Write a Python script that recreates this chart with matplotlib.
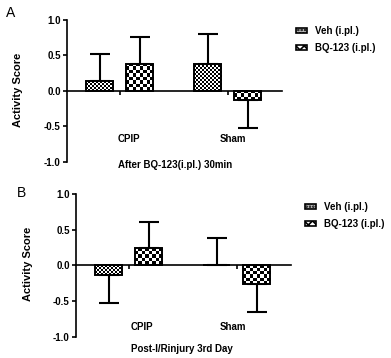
import matplotlib
matplotlib.use("Agg")
import matplotlib.pyplot as plt
import numpy as np
from matplotlib.patches import Patch

plt.rcParams['font.family'] = ['Liberation Sans', 'DejaVu Sans']
plt.rcParams['hatch.linewidth'] = 1.2

categories = ["CPIP", "Sham"]
series_names = ["Veh (i.pl.)", "BQ-123 (i.pl.)"]
yticks = [-1.0, -0.5, 0.0, 0.5, 1.0]
ytick_labels = ["-1.0", "-0.5", "0.0", "0.5", "1.0"]

# Panel A
a_veh = [0.13, 0.38]
a_bq = [0.38, -0.13]
a_veh_err = [0.39, 0.42]
a_bq_err = [0.37, 0.39]
a_veh_dir = [1, 1]
a_bq_dir = [1, -1]
a_xlabel = "After BQ-123(i.pl.) 30min"

# Panel B
b_veh = [-0.13, 0.0]
b_bq = [0.25, -0.26]
b_veh_err = [0.40, 0.38]
b_bq_err = [0.36, 0.40]
b_veh_dir = [-1, 1]
b_bq_dir = [1, -1]
b_xlabel = "Post-I/Rinjury 3rd Day"

W, H = 391, 358
fig = plt.figure(figsize=(W / 100, H / 100), dpi=100)

VEH_CELL = 2.0   # checker cell size in pixels
BQ_CELL = 3.3


def checker_fill(ax, rect, cell, light=1.0, dark=0.0):
    # fill a bar patch with a checkerboard clipped to the bar
    bb = rect.get_window_extent()
    wpx, hpx = abs(bb.width), abs(bb.height)
    if wpx < 1 or hpx < 1:
        return
    nx = max(1, int(round(wpx / cell)))
    ny = max(1, int(round(hpx / cell)))
    yy, xx = np.mgrid[0:ny, 0:nx]
    arr = np.where((xx + yy) % 2 == 0, light, dark)
    x0 = rect.get_x()
    x1 = x0 + rect.get_width()
    y0 = rect.get_y()
    y1 = y0 + rect.get_height()
    im = ax.imshow(arr, extent=(x0, x1, min(y0, y1), max(y0, y1)), cmap="gray",
                   vmin=0, vmax=1, interpolation="nearest", aspect="auto", zorder=2.5,
                   origin="upper")
    im.set_clip_path(rect)


def panel(rect, veh, bq, veh_err, bq_err, veh_dir, bq_dir, xlabel, cat_x, cat_y, xl_x, xl_y,
          letter, letter_xy, ylab_xy, leg_xy):
    ax = fig.add_axes(rect)
    ax.set_xlim(-0.49, 1.5)
    ax.set_ylim(-1.0, 1.0)
    x = np.arange(len(categories))
    off = 0.185
    w = 0.25
    for vals, errs, dirs, sgn, cell in [(veh, veh_err, veh_dir, -1, VEH_CELL),
                                        (bq, bq_err, bq_dir, 1, BQ_CELL)]:
        xs = x + sgn * off
        bars = ax.bar(xs, vals, width=w, zorder=3, facecolor="none",
                      edgecolor="black", linewidth=1.4)
        for b in bars:
            checker_fill(ax, b, cell)
        for xi, v, e, d in zip(xs, vals, errs, dirs):
            yerr = [[0], [e]] if d > 0 else [[e], [0]]
            ax.errorbar([xi], [v], yerr=yerr, fmt="none", ecolor="black",
                        elinewidth=1.5, capsize=7, capthick=1.5, zorder=2)
    ax.set_xlim(-0.49, 1.5)
    ax.set_ylim(-1.0, 1.0)
    ax.set_yticks(yticks)
    ax.set_yticklabels(ytick_labels, fontsize=7, fontweight="bold")
    ax.set_xticks(x)
    ax.set_xticklabels([])
    for s in ["top", "right"]:
        ax.spines[s].set_visible(False)
    ax.spines["bottom"].set_position(("data", 0))
    ax.spines["bottom"].set_linewidth(1.2)
    ax.spines["left"].set_linewidth(1.2)
    ax.tick_params(axis="y", direction="out", length=3, width=1.2, pad=1.5)
    ax.tick_params(axis="x", direction="out", length=3, width=1.2)
    ax.set_facecolor("none")
    for cx, c in zip(cat_x, categories):
        ax.text(cx, cat_y, c, ha="center", va="center", fontsize=7, fontweight="bold")
    ax.text(xl_x, xl_y, xlabel, ha="center", va="center", fontsize=7, fontweight="bold")
    fig.text(letter_xy[0] / W, 1 - letter_xy[1] / H, letter, ha="center", va="center", fontsize=10)
    fig.text(ylab_xy[0] / W, 1 - ylab_xy[1] / H, "Activity Score", rotation=90,
             ha="center", va="center", fontsize=8, fontweight="bold")
    handles = [Patch(facecolor="#b8b8b8", edgecolor="black", linewidth=1.2, hatch="....."),
               Patch(facecolor="white", edgecolor="black", linewidth=1.2, hatch="xxxx")]
    fig.legend(handles, series_names, loc="upper left",
               bbox_to_anchor=(leg_xy[0] / W, 1 - leg_xy[1] / H),
               frameon=False, prop=dict(weight="bold", size=7),
               handlelength=1.1, handleheight=0.45, handletextpad=0.9,
               labelspacing=0.75, borderpad=0, borderaxespad=0)
    return ax


panel([67 / W, 1 - 162 / H, 215 / W, 142.5 / H], a_veh, a_bq, a_veh_err, a_bq_err,
      a_veh_dir, a_bq_dir, a_xlabel, [0.083, 1.046], -0.68, 0.51, -1.04,
      "A", (11, 13), (18, 90), (296, 26))
panel([76 / W, 1 - 336.7 / H, 215 / W, 142.5 / H], b_veh, b_bq, b_veh_err, b_bq_err,
      b_veh_dir, b_bq_dir, b_xlabel, [0.12, 0.963], -0.86, 0.49, -1.17,
      "B", (21, 193), (28, 264), (305, 202))

fig.savefig("out.png", dpi=100)
